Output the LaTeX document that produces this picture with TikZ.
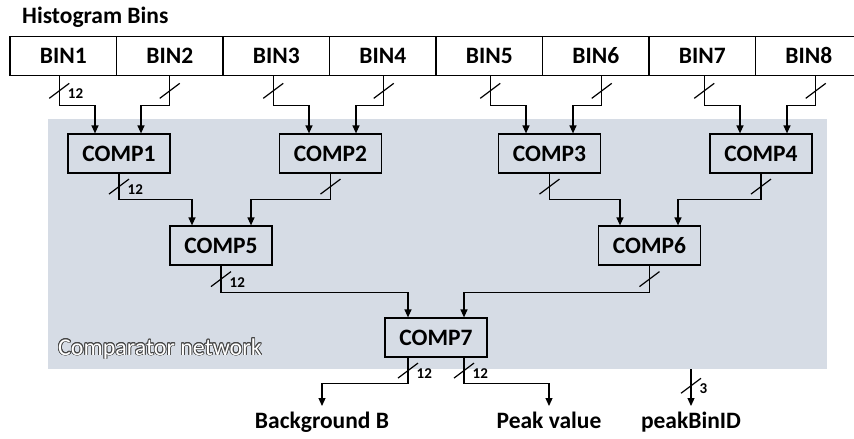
\documentclass[tikz,border=0pt]{standalone}
\usepackage{fontspec}
\setmainfont{Carlito}[Numbers=Lining]
\usepackage{contour}
\usetikzlibrary{arrows.meta}

\definecolor{netgray}{RGB}{214,220,229}
\definecolor{inkgray}{RGB}{70,70,70}
\contourlength{0.8pt}

\newcommand\lblfont{\fontsize{23.5}{27}\selectfont\bfseries}
\newcommand\busfont{\fontsize{15}{17}\selectfont\bfseries}
\newcommand\netfont{\fontsize{24}{27}\selectfont}

\begin{document}
\begin{tikzpicture}[x=1pt,y=-1pt,
    binbox/.style={draw, line width=1.2pt, minimum width=106.5pt, minimum height=38.5pt, inner sep=0pt,
      text height=15pt, text depth=0pt, font=\lblfont},
    compbox/.style={draw, line width=1.2pt, minimum width=102pt, minimum height=39pt, inner sep=0pt,
      text height=15pt, text depth=0pt, font=\lblfont},
    wire/.style={line width=1.2pt, -{Triangle[length=8pt,width=7pt]}},
    bus/.style={line width=1.2pt},
    buslbl/.style={anchor=west, inner sep=0pt, font=\busfont},
    outlbl/.style={anchor=north, inner xsep=0pt, inner ysep=6pt, font=\lblfont}]
  \useasboundingbox (0,0) rectangle (854,439);

  % comparator network background
  \node[fill=netgray, minimum width=779pt, minimum height=250pt, inner sep=0pt] (net) at (437.5,244) {};
  \node[anchor=base west, inner sep=0pt, font=\netfont] (netlbl) at (58,355)
    {\contour{inkgray}{\textcolor{white}{Comparator network}}};

  % histogram bins
  \node[anchor=west, inner sep=0pt, font=\lblfont] (title) at (22,17) {Histogram Bins};
  \foreach \i in {1,...,8}
    \node[binbox] (bin\i) at ({10+106.5*(\i-0.5)},56) {BIN\i};

  % comparators
  \node[compbox] (comp1) at (119,153.5) {COMP1};
  \node[compbox] (comp2) at (330.5,153.5) {COMP2};
  \node[compbox] (comp3) at (549.5,153.5) {COMP3};
  \node[compbox] (comp4) at (761,153.5) {COMP4};
  \node[compbox] (comp5) at (221,245.5) {COMP5};
  \node[compbox] (comp6) at (649.5,245.5) {COMP6};
  \node[compbox] (comp7) at (436,337.5) {COMP7};

  % outputs
  \node[outlbl] (bg) at (322,406) {Background B};
  \node[outlbl] (peak) at (549,406) {Peak value};
  \node[outlbl] (binid) at (691,406) {peakBinID};

  % bins -> first level
  \foreach \b/\dx/\c/\ix in {1/-4/1/-24, 2/0/1/22, 3/-3/2/-21.5, 4/1/2/25.5,
                             5/1/3/-23.5, 6/6/3/23.5, 7/2/4/-21, 8/7/4/26}
    \draw[wire] ([xshift=\dx pt]bin\b.south) -- ++(0,30) coordinate[pos=.5] (s\b)
      -| ([xshift=\ix pt]comp\c.north);

  % first level -> second level
  \foreach \c/\d/\ix in {1/5/-29, 2/5/30, 3/6/-29.5, 4/6/28.5}
    \draw[wire] (comp\c.south) -- ++(0,26) coordinate[pos=.5] (t\c)
      -| ([xshift=\ix pt]comp\d.north);

  % second level -> comp7
  \foreach \c/\ix in {5/-28, 6/28}
    \draw[wire] (comp\c.south) -- ++(0,27) coordinate[pos=.5] (u\c)
      -| ([xshift=\ix pt]comp7.north);

  % comp7 -> outputs
  \draw[wire] ([xshift=-28pt]comp7.south) -- ++(0,26) coordinate[pos=.5] (v1) -| (bg.north);
  \draw[wire] ([xshift=28pt]comp7.south) -- ++(0,26) coordinate[pos=.5] (v2) -| (peak.north);
  \draw[wire] (binid.north |- net.south) -- coordinate[pos=.45] (v3) (binid.north);

  % bus width marks
  \foreach \m in {s1,s2,s3,s4,s5,s6,s7,s8,t1,t2,t3,t4,u5,u6,v1,v2,v3}
    \draw[bus] (\m) +(-10,7.5) -- +(10,-7.5);
  \foreach \m/\w in {s1/12, t1/12, u5/12, v1/12, v2/12, v3/3}
    \node[buslbl] (w\m) at ([xshift=8.5pt,yshift=-3pt]\m) {\w};

\end{tikzpicture}
\end{document}
